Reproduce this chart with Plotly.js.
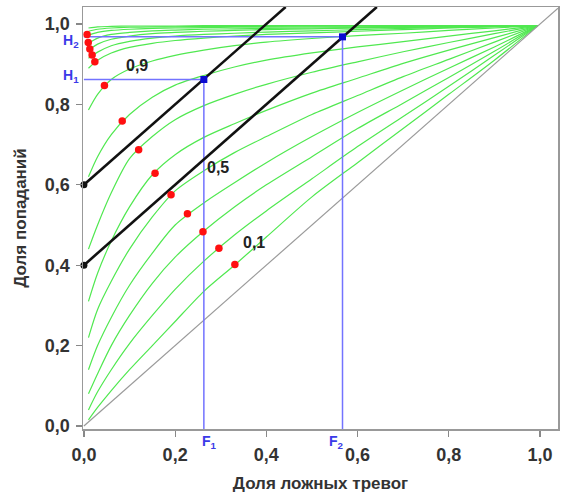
<!DOCTYPE html>
<html>
<head>
<meta charset="utf-8">
<script src="https://cdn.plot.ly/plotly-3.0.1.min.js"></script>
<style>html,body{margin:0;padding:0;background:#fff}#chart{width:569px;height:500px}</style>
</head>
<body>
<div id="chart"></div>
<script>
// ---- data ----
const tickVals = [0, 0.2, 0.4, 0.6, 0.8, 1.0];
const tickText = ['0,0', '0,2', '0,4', '0,6', '0,8', '1,0'];

// common false-alarm grid of the green ROC curves
const fGrid = [0.01, 0.03, 0.06, 0.1, 0.15, 0.2, 0.263, 0.33, 0.4, 0.5, 0.6, 0.7, 0.8, 0.9, 0.995];
// hit rates of each green curve (bottom to top)
const roc14 = [0.015, 0.046, 0.088, 0.14, 0.20, 0.26, 0.335, 0.40, 0.47, 0.57, 0.655, 0.74, 0.825, 0.91, 0.996];
const roc13 = [0.04, 0.085, 0.14, 0.205, 0.275, 0.34, 0.41, 0.475, 0.535, 0.615, 0.695, 0.77, 0.845, 0.922, 0.996];
const roc12 = [0.08, 0.13, 0.2, 0.275, 0.355, 0.42, 0.485, 0.545, 0.6, 0.67, 0.74, 0.803, 0.867, 0.932, 0.996];
const roc11 = [0.14, 0.2, 0.27, 0.35, 0.43, 0.5, 0.555, 0.605, 0.655, 0.72, 0.78, 0.836, 0.89, 0.943, 0.996];
const roc10 = [0.22, 0.29, 0.36, 0.44, 0.52, 0.585, 0.635, 0.68, 0.72, 0.775, 0.822, 0.869, 0.912, 0.955, 0.996];
const roc9  = [0.31, 0.38, 0.46, 0.545, 0.625, 0.675, 0.718, 0.752, 0.785, 0.828, 0.865, 0.902, 0.935, 0.966, 0.996];
const roc8  = [0.44, 0.5, 0.58, 0.665, 0.72, 0.762, 0.797, 0.825, 0.85, 0.88, 0.906, 0.931, 0.954, 0.976, 0.996];
const roc7  = [0.62, 0.67, 0.725, 0.775, 0.818, 0.848, 0.872, 0.893, 0.91, 0.928, 0.943, 0.956, 0.97, 0.983, 0.996];
const roc6  = [0.786, 0.825, 0.862, 0.888, 0.908, 0.922, 0.935, 0.946, 0.955, 0.964, 0.971, 0.977, 0.984, 0.99, 0.996];
const roc5  = [0.89, 0.91, 0.928, 0.942, 0.952, 0.959, 0.965, 0.97, 0.974, 0.978, 0.982, 0.986, 0.99, 0.993, 0.996];
const roc4  = [0.915, 0.93, 0.946, 0.957, 0.965, 0.97, 0.974, 0.977, 0.98, 0.983, 0.986, 0.989, 0.991, 0.994, 0.996];
const roc3  = [0.935, 0.95, 0.962, 0.97, 0.976, 0.979, 0.982, 0.984, 0.986, 0.988, 0.99, 0.991, 0.993, 0.995, 0.996];
const roc2  = [0.952, 0.965, 0.974, 0.979, 0.983, 0.985, 0.987, 0.988, 0.989, 0.99, 0.991, 0.992, 0.994, 0.995, 0.996];
const roc1  = [0.972, 0.979, 0.984, 0.987, 0.989, 0.99, 0.991, 0.992, 0.992, 0.993, 0.993, 0.994, 0.995, 0.995, 0.996];
const roc0a = [0.982, 0.987, 0.99, 0.992, 0.993, 0.993, 0.994, 0.994, 0.994, 0.995, 0.995, 0.995, 0.995, 0.996, 0.996];
const roc0b = [0.99, 0.993, 0.994, 0.995, 0.995, 0.995, 0.996, 0.996, 0.996, 0.996, 0.996, 0.996, 0.996, 0.996, 0.996];
const rocCurves = [roc14, roc13, roc12, roc11, roc10, roc9, roc8, roc7, roc6, roc5, roc4, roc3, roc2, roc1, roc0a, roc0b];

// red points (false alarms, hits)
const redF = [0.007, 0.0095, 0.013, 0.018, 0.024, 0.045, 0.084, 0.12, 0.156, 0.191, 0.227, 0.261, 0.296, 0.331];
const redH = [0.974, 0.954, 0.938, 0.923, 0.906, 0.847, 0.759, 0.687, 0.629, 0.575, 0.528, 0.483, 0.442, 0.402];

// black iso-lines: H = F + intercept
const isoIntercepts = [0.6, 0.4];

// blue operating points
const blueF = [0.263, 0.567];
const blueH = [0.862, 0.968];
const blueFLabels = ['F<sub>1</sub>', 'F<sub>2</sub>'];
const blueHLabels = ['H<sub>1</sub>', 'H<sub>2</sub>'];

// curve labels
const curveLabels = ['0,9', '0,5', '0,1'];
const curveLabelF = [0.117, 0.293, 0.372];
const curveLabelH = [0.896, 0.644, 0.457];

// ---- chart ----
const FONT = 'Liberation Sans, Arial, sans-serif';
const xRange = [-0.002, 1.0395];
const yRange = [-0.0075, 1.0423];
const traces = [];

rocCurves.forEach(h => traces.push({
  x: fGrid, y: h, type: 'scatter', mode: 'lines',
  line: {color: 'rgb(80,232,80)', width: 1.2, shape: 'spline', smoothing: 0.8},
  hoverinfo: 'skip', showlegend: false
}));

// chance diagonal across the whole frame
traces.push({x: [0, xRange[1]], y: [0, xRange[1]], type: 'scatter', mode: 'lines',
  line: {color: '#9a9a9a', width: 1.2}, showlegend: false, hoverinfo: 'skip'});

// blue guide lines
blueF.forEach((f, i) => {
  traces.push({x: [0, f, f], y: [blueH[i], blueH[i], yRange[0]], type: 'scatter', mode: 'lines',
    line: {color: 'rgb(115,115,255)', width: 1.5}, showlegend: false, hoverinfo: 'skip'});
});

// black iso-lines
isoIntercepts.forEach(b => {
  traces.push({x: [0, yRange[1] - b], y: [b, yRange[1]], type: 'scatter', mode: 'lines',
    line: {color: '#111', width: 2.6}, showlegend: false, hoverinfo: 'skip'});
});
traces.push({x: isoIntercepts.map(() => 0), y: isoIntercepts, type: 'scatter', mode: 'markers',
  marker: {color: '#111', size: 7}, showlegend: false, cliponaxis: false, hoverinfo: 'skip'});

// red points
traces.push({x: redF, y: redH, type: 'scatter', mode: 'markers',
  marker: {color: '#ff1010', size: 7.5}, showlegend: false, cliponaxis: false});

// blue squares
traces.push({x: blueF, y: blueH, type: 'scatter', mode: 'markers',
  marker: {color: '#0a0ad0', size: 7, symbol: 'square'}, showlegend: false});

const annotations = [];
curveLabels.forEach((t, i) => annotations.push({
  x: curveLabelF[i], y: curveLabelH[i], text: '<b>' + t + '</b>', showarrow: false,
  font: {family: FONT, size: 16, color: '#222'}
}));
const hLabelShift = [0.008, -0.01];
blueH.forEach((h, i) => annotations.push({
  xref: 'paper', yref: 'y', x: -0.026, y: h + hLabelShift[i], text: '<b>' + blueHLabels[i] + '</b>',
  showarrow: false, xanchor: 'center',
  font: {family: FONT, size: 14, color: '#3a3ae8'}
}));
const fLabelShift = [0.012, -0.014];
blueF.forEach((f, i) => annotations.push({
  xref: 'x', yref: 'paper', x: f + fLabelShift[i], y: -0.03, text: '<b>' + blueFLabels[i] + '</b>',
  showarrow: false, yanchor: 'middle', xanchor: 'center',
  font: {family: FONT, size: 14, color: '#3a3ae8'}
}));

const axisCommon = {
  tickvals: tickVals, ticktext: tickText, ticks: 'outside', ticklen: 6, tickwidth: 1.2,
  tickcolor: '#888', showline: true, linecolor: '#999', linewidth: 1.5, mirror: true,
  showgrid: false, zeroline: false,
  tickfont: {family: FONT, size: 18, color: '#333', weight: 700}
};

const layout = {
  width: 569, height: 500,
  margin: {l: 83, r: 11, t: 7, b: 71},
  paper_bgcolor: '#fff', plot_bgcolor: '#fff',
  separators: ', ',
  showlegend: false,
  xaxis: Object.assign({}, axisCommon, {range: xRange, ticklabelstandoff: 3,
    title: {text: '<b>Доля ложных тревог</b>', standoff: 13,
      font: {family: FONT, size: 17, color: '#333'}}}),
  yaxis: Object.assign({}, axisCommon, {range: yRange, ticklabelstandoff: 2,
    title: {text: '<b>Доля попаданий</b>', standoff: 14,
      font: {family: FONT, size: 17, color: '#333'}}}),
  annotations: annotations
};

Plotly.newPlot('chart', traces, layout, {staticPlot: true, displayModeBar: false});
</script>
</body>
</html>
